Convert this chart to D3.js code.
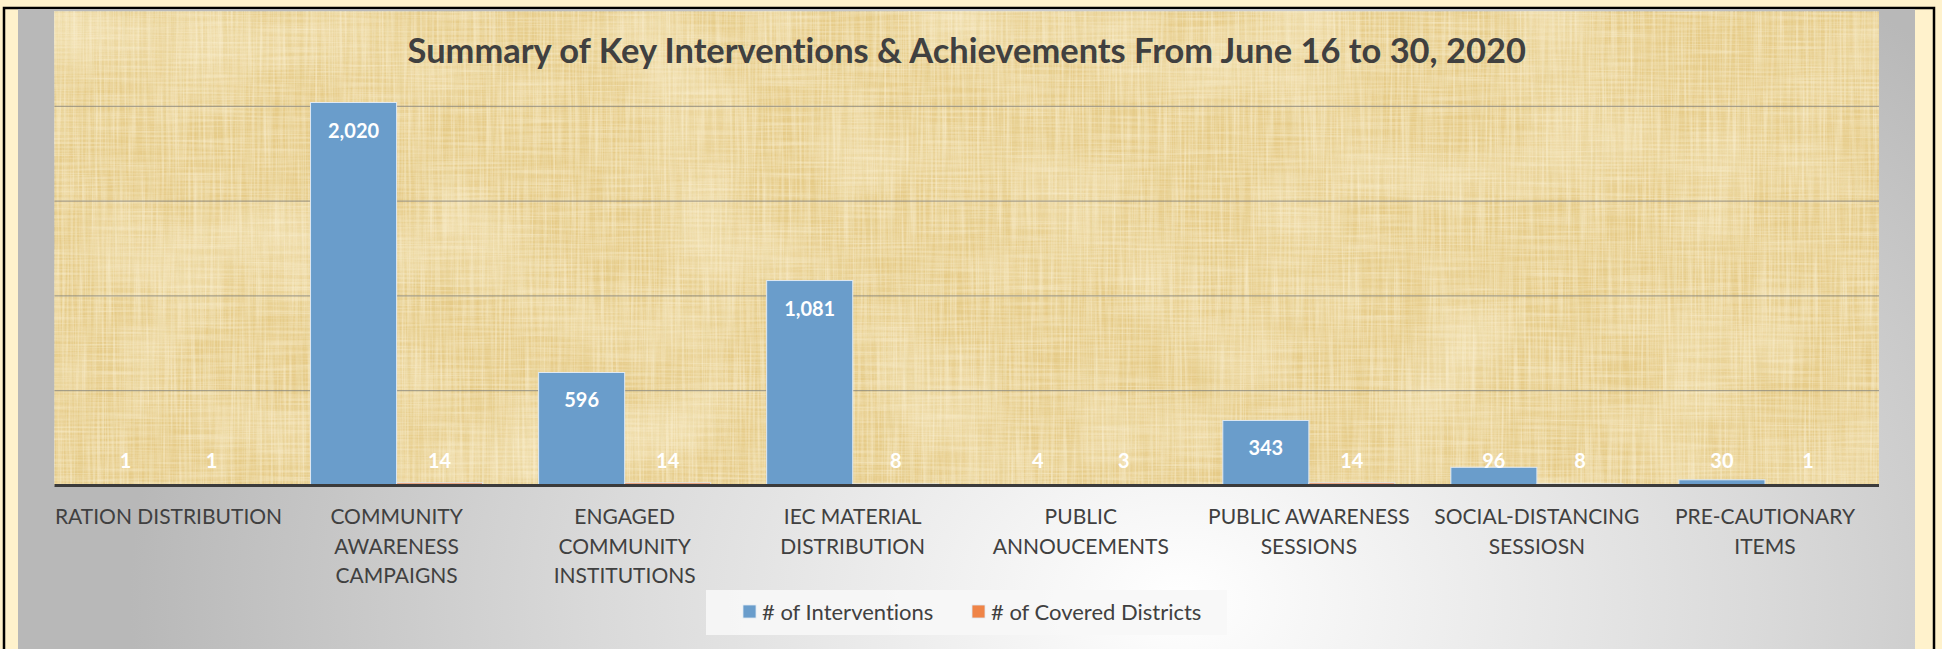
<!DOCTYPE html>
<html>
<head>
<meta charset="utf-8">
<script src="https://cdn.jsdelivr.net/npm/d3@7/dist/d3.min.js"></script>
<style>
  html, body { margin: 0; padding: 0; background: #fff2cc; }
  svg { display: block; }
  text { font-variant-ligatures: none; }
</style>
</head>
<body>
<svg id="chart" width="1942" height="649"></svg>
<script>
// chart data
const categories = [
  "RATION DISTRIBUTION",
  "COMMUNITY AWARENESS CAMPAIGNS",
  "ENGAGED COMMUNITY INSTITUTIONS",
  "IEC MATERIAL DISTRIBUTION",
  "PUBLIC ANNOUCEMENTS",
  "PUBLIC AWARENESS SESSIONS",
  "SOCIAL-DISTANCING SESSIOSN",
  "PRE-CAUTIONARY ITEMS"
];
// how the axis labels wrap in the picture
const categoryLines = [
  ["RATION DISTRIBUTION"],
  ["COMMUNITY", "AWARENESS", "CAMPAIGNS"],
  ["ENGAGED", "COMMUNITY", "INSTITUTIONS"],
  ["IEC MATERIAL", "DISTRIBUTION"],
  ["PUBLIC", "ANNOUCEMENTS"],
  ["PUBLIC AWARENESS", "SESSIONS"],
  ["SOCIAL-DISTANCING", "SESSIOSN"],
  ["PRE-CAUTIONARY", "ITEMS"]
];
const seriesNames = ["# of Interventions", "# of Covered Districts"];
const interventions = [1, 2020, 596, 1081, 4, 343, 96, 30];
const coveredDistricts = [1, 14, 14, 8, 3, 14, 8, 1];
const gridTicks = [500, 1000, 1500, 2000];
const title = "Summary of Key Interventions & Achievements From June 16 to 30, 2020";

const colors = ["#6a9dcb", "#ef8447"];
const font = "Lato, 'Open Sans', sans-serif";

const svg = d3.select("#chart");
const W = +svg.attr("width");
const H = +svg.attr("height");

const plot = { left: 54.5, right: 1879, top: 11.5, bottom: 485.5 };

// ---- defs: panel gradient and papyrus texture
const defs = svg.append("defs");
const grad = defs.append("radialGradient")
  .attr("id", "panelGrad")
  .attr("gradientUnits", "userSpaceOnUse")
  .attr("cx", 1180).attr("cy", 600).attr("r", 1050)
  .attr("gradientTransform", "translate(1180,600) scale(1,0.75) translate(-1180,-600)");
grad.append("stop").attr("offset", 0).attr("stop-color", "#ffffff");
grad.append("stop").attr("offset", 0.55).attr("stop-color", "#dadada");
grad.append("stop").attr("offset", 1).attr("stop-color", "#b8b8b8");

function fibre(id, freq, seed, rgb, alphaGain, alphaOffset) {
  const f = defs.append("filter").attr("id", id)
    .attr("x", 0).attr("y", 0).attr("width", 1).attr("height", 1);
  f.append("feTurbulence")
    .attr("type", "fractalNoise")
    .attr("baseFrequency", freq)
    .attr("numOctaves", 2)
    .attr("seed", seed);
  f.append("feColorMatrix")
    .attr("type", "matrix")
    .attr("values",
      `0 0 0 0 ${rgb[0]} ` +
      `0 0 0 0 ${rgb[1]} ` +
      `0 0 0 0 ${rgb[2]} ` +
      `${alphaGain} 0 0 0 ${alphaOffset}`);
}
fibre("fibV", "0.45 0.012", 3, [0.96, 0.88, 0.66], 1.6, -0.55);
fibre("fibH", "0.012 0.45", 7, [0.96, 0.88, 0.66], 1.4, -0.5);
fibre("fibD", "0.3 0.02", 11, [0.78, 0.64, 0.30], 1.3, -0.55);
fibre("mottle", "0.008 0.01", 5, [0.95, 0.86, 0.62], 1.6, -0.7);

// ---- background
svg.append("rect").attr("width", W).attr("height", H).attr("fill", "#fff2cc");
svg.append("rect")
  .attr("x", 4).attr("y", 8).attr("width", 1930).attr("height", 700)
  .attr("fill", "none").attr("stroke", "#000").attr("stroke-width", 2.5);
svg.append("rect")
  .attr("x", 18).attr("y", 9).attr("width", 1897).attr("height", 700)
  .attr("fill", "url(#panelGrad)");

// plot area texture
const pw = plot.right - plot.left, ph = plot.bottom - plot.top;
const tex = svg.append("g");
tex.append("rect").attr("x", plot.left).attr("y", plot.top)
  .attr("width", pw).attr("height", ph).attr("fill", "#e6cb88");
["mottle", "fibV", "fibH", "fibD"].forEach(id => {
  tex.append("rect").attr("x", plot.left).attr("y", plot.top)
    .attr("width", pw).attr("height", ph)
    .attr("filter", `url(#${id})`)
    .attr("opacity", id === "fibD" ? 0.5 : 0.75);
});

// ---- scales
const x0 = d3.scaleBand().domain(categories).range([plot.left, plot.right])
  .paddingInner(0).paddingOuter(0);
const x1 = d3.scaleBand().domain(seriesNames).range([0, x0.bandwidth()])
  .paddingInner(0).paddingOuter(0.325);
const y = d3.scaleLinear().domain([0, 2500]).range([plot.bottom, plot.top]);

// gridlines
svg.append("g").selectAll("line").data(gridTicks).join("line")
  .attr("x1", plot.left).attr("x2", plot.right)
  .attr("y1", d => y(d)).attr("y2", d => y(d))
  .attr("stroke", "#86847a").attr("stroke-opacity", 0.85).attr("stroke-width", 1);

// title
const titleText = svg.append("text")
  .attr("x", (plot.left + plot.right) / 2).attr("y", 63)
  .attr("text-anchor", "middle")
  .attr("font-family", font).attr("font-weight", "bold")
  .attr("font-size", 36).attr("fill", "#404040")
  .text(title);
const tl = titleText.node().getComputedTextLength();
titleText.attr("font-size", 36 * 1119 / tl);

// bars
const rows = categories.map((c, i) => ({
  cat: c,
  vals: [
    { s: seriesNames[0], v: interventions[i] },
    { s: seriesNames[1], v: coveredDistricts[i] }
  ]
}));

const groups = svg.append("g").selectAll("g").data(rows).join("g")
  .attr("transform", d => `translate(${x0(d.cat)},0)`);

groups.selectAll("rect").data(d => d.vals).join("rect")
  .attr("x", d => x1(d.s))
  .attr("y", d => y(d.v))
  .attr("width", x1.bandwidth())
  .attr("height", d => y(0) - y(d.v))
  .attr("fill", (d, i) => colors[i])
  .attr("stroke", "#dfe9f3").attr("stroke-width", 1);

groups.selectAll("text").data(d => d.vals).join("text")
  .attr("x", d => x1(d.s) + x1.bandwidth() / 2)
  .attr("y", d => Math.min(y(d.v) + 35, 468))
  .attr("text-anchor", "middle")
  .attr("font-family", font).attr("font-weight", "bold")
  .attr("font-size", 20).attr("fill", "#ffffff")
  .text(d => d3.format(",")(d.v));

// x axis line
svg.append("line")
  .attr("x1", plot.left).attr("x2", plot.right)
  .attr("y1", plot.bottom).attr("y2", plot.bottom)
  .attr("stroke", "#3b3b3b").attr("stroke-width", 3);

// category labels
const catLabels = svg.append("g").selectAll("text").data(categories).join("text")
  .attr("x", d => x0(d) + x0.bandwidth() / 2)
  .attr("y", 524)
  .attr("text-anchor", "middle")
  .attr("font-family", font).attr("font-size", 21).attr("fill", "#404040");
catLabels.selectAll("tspan").data((d, i) => categoryLines[i]).join("tspan")
  .attr("x", function () { return d3.select(this.parentNode).attr("x"); })
  .attr("dy", (d, i) => i === 0 ? 0 : 29.5)
  .text(d => d);

// legend
const legend = svg.append("g");
legend.append("rect")
  .attr("x", 706).attr("y", 590).attr("width", 521).attr("height", 45)
  .attr("fill", "#f7f7f7").attr("fill-opacity", 0.9);
const legendX = [743, 972];
seriesNames.forEach((s, i) => {
  legend.append("rect")
    .attr("x", legendX[i]).attr("y", 605).attr("width", 13).attr("height", 13)
    .attr("fill", colors[i]).attr("stroke", "#dfe9f3").attr("stroke-width", 0.8);
  legend.append("text")
    .attr("x", legendX[i] + 19).attr("y", 620)
    .attr("font-family", font).attr("font-size", 22).attr("fill", "#404040")
    .text(s);
});
</script>
</body>
</html>
